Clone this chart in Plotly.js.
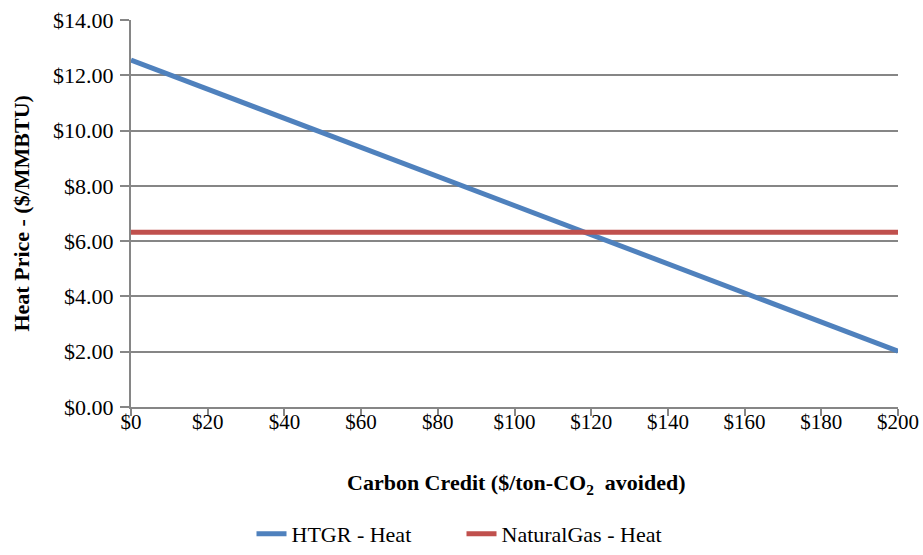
<!DOCTYPE html>
<html>
<head>
<meta charset="utf-8">
<script src="https://cdn.plot.ly/plotly-3.0.1.min.js"></script>
<style>html,body{margin:0;padding:0;background:#fff;}#chart{width:923px;height:555px;}</style>
</head>
<body>
<div id="chart"></div>
<script>
const carbonCredit = [0, 20, 40, 60, 80, 100, 120, 140, 160, 180, 200];
const htgrHeat = [12.55, 11.50, 10.44, 9.39, 8.34, 7.28, 6.23, 5.18, 4.13, 3.07, 2.02];
const naturalGasHeat = [6.32, 6.32, 6.32, 6.32, 6.32, 6.32, 6.32, 6.32, 6.32, 6.32, 6.32];
const seriesNames = ["HTGR - Heat", "NaturalGas - Heat"];
const xTicks = [0, 20, 40, 60, 80, 100, 120, 140, 160, 180, 200];
const xTickLabels = ["$0", "$20", "$40", "$60", "$80", "$100", "$120", "$140", "$160", "$180", "$200"];
const yTicks = [0, 2, 4, 6, 8, 10, 12, 14];
const yTickLabels = ["$0.00", "$2.00", "$4.00", "$6.00", "$8.00", "$10.00", "$12.00", "$14.00"];
const xTitle = "<b>Carbon Credit ($/ton-CO<sub>2</sub>  avoided)</b>";
const yTitle = "<b>Heat Price - ($/MMBTU)</b>";

const font = "Liberation Serif, Times New Roman, serif";
const data = [
  {x: carbonCredit, y: htgrHeat, name: seriesNames[0], mode: "lines",
   line: {color: "#4F81BD", width: 5}},
  {x: carbonCredit, y: naturalGasHeat, name: seriesNames[1], mode: "lines",
   line: {color: "#C0504D", width: 5}}
];
const layout = {
  width: 923, height: 555,
  margin: {l: 131, r: 25, t: 20, b: 148, autoexpand: false},
  paper_bgcolor: "#fff", plot_bgcolor: "#fff",
  font: {family: font, size: 22, color: "#000"},
  showlegend: true,
  legend: {orientation: "h", xref: "container", x: 0.5, xanchor: "center",
           yref: "container", y: 0, yanchor: "bottom", entrywidth: 165,
           font: {family: font, size: 22, color: "#000"}, traceorder: "normal"},
  xaxis: {
    range: [0, 200], tickvals: xTicks, ticktext: xTickLabels,
    showgrid: false, zeroline: false, showline: true, linecolor: "#868686", linewidth: 2,
    ticks: "outside", ticklen: 7, tickwidth: 2, tickcolor: "#868686",
    ticklabelstandoff: -12,
    tickfont: {family: font, size: 21, color: "#000"},
    automargin: false
  },
  yaxis: {
    range: [0, 14], tickvals: yTicks, ticktext: yTickLabels,
    showgrid: true, gridcolor: "#868686", gridwidth: 2,
    zeroline: false, showline: true, linecolor: "#868686", linewidth: 2,
    ticks: "outside", ticklen: 9, tickwidth: 2, tickcolor: "#868686",
    ticklabelstandoff: 2,
    tickfont: {family: font, size: 22, color: "#000"},
    automargin: false
  },
  annotations: [
    {text: xTitle, xref: "paper", yref: "paper", x: 0.503, y: -0.199,
     xanchor: "center", yanchor: "middle", showarrow: false,
     font: {family: font, size: 22, color: "#000"}},
    {text: yTitle, xref: "paper", yref: "paper", x: -0.1434, y: 0.5,
     xanchor: "center", yanchor: "middle", textangle: -90, showarrow: false,
     font: {family: font, size: 22, color: "#000"}}
  ]
};
Plotly.newPlot("chart", data, layout, {displayModeBar: false, staticPlot: true});
</script>
</body>
</html>
